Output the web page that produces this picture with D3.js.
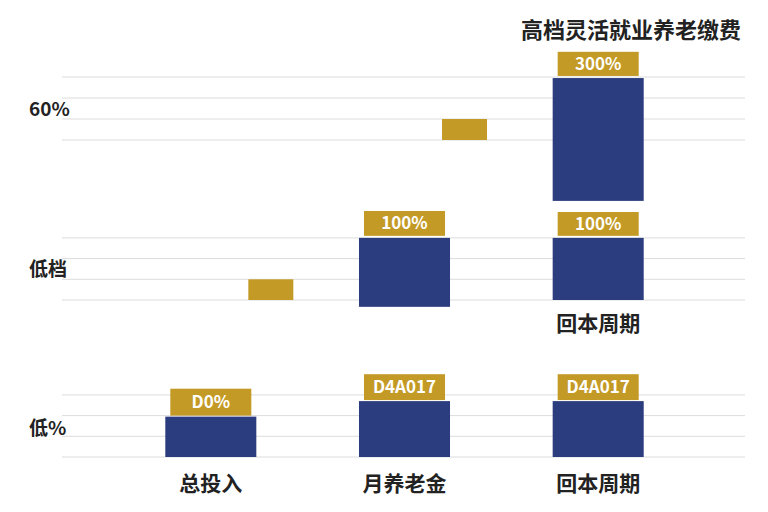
<!DOCTYPE html>
<html><head><meta charset="utf-8">
<script src="https://cdn.jsdelivr.net/npm/d3@7"></script>
<style>body{margin:0;background:#fff}</style>
</head><body><div id="chart"></div>
<script>
const categories = ["总投入", "月养老金", "回本周期"]
// panels: row label, baseline px, bars [category, from, to], tags [category, from, to, text], small gold marks
const panelLabels = ["60%", "低档", "低%"]
const panelBase = [140, 300, 457]
const panelStep = [21, 20.7, 20.7]
const panelLabelPos = [1.5, 1.5, 1.4]
const blueBars = [
  [["回本周期", -2.9, 2.95]],
  [["月养老金", -0.33, 3], ["回本周期", 0, 3]],
  [["总投入", 0, 1.95], ["月养老金", 0, 2.7], ["回本周期", 0, 2.7]]
]
const tags = [
  [["回本周期", 3.05, 4.2, "300%"]],
  [["月养老金", 3.1, 4.3, "100%"], ["回本周期", 3.1, 4.25, "100%"]],
  [["总投入", 2.0, 3.3, "D0%"], ["月养老金", 2.75, 4.0, "D4A017"], ["回本周期", 2.75, 4.0, "D4A017"]]
]
const goldMarks = [
  [["月养老金", 0, 1]],
  [["总投入", 0, 1]],
  []
]
const subLabels = [[], [["回本周期", "回本周期"]], []]

const width = 768, height = 512
const blue = "#2b3d7e", gold = "#c49a26"
const svg = d3.select("#chart").append("svg").attr("width", width).attr("height", height)
const font = "'Noto Sans CJK SC', 'Noto Sans', sans-serif"

const x = d3.scaleBand().domain(categories).range([113, 696]).paddingInner(0.53).paddingOuter(0.27)
const bw = x.bandwidth()

svg.append("text").attr("x", 741).attr("y", 38).attr("text-anchor", "end")
  .attr("font-family", font).attr("font-weight", "bold").attr("font-size", 22).attr("fill", "#222")
  .text("高档灵活就业养老缴费")

panelBase.forEach((base, p) => {
  const y = d3.scaleLinear().domain([0, 3]).range([base, base - 3 * panelStep[p]])
  const g = svg.append("g")
  g.selectAll("line.grid").data(d3.range(4)).join("line")
    .attr("x1", 62).attr("x2", 745).attr("y1", d => y(d)).attr("y2", d => y(d))
    .attr("stroke", "#dcdcdc").attr("stroke-width", 1)
  g.append("text").attr("x", 29).attr("y", y(panelLabelPos[p]) + 7)
    .attr("font-family", font).attr("font-weight", "bold").attr("font-size", 19).attr("fill", "#222")
    .text(panelLabels[p])
  g.selectAll("rect.bar").data(blueBars[p]).join("rect")
    .attr("x", d => x(d[0])).attr("width", bw)
    .attr("y", d => y(d[2])).attr("height", d => y(d[1]) - y(d[2])).attr("fill", blue)
  g.selectAll("rect.gm").data(goldMarks[p]).join("rect")
    .attr("x", d => x(d[0]) + bw - 8).attr("width", 45)
    .attr("y", d => y(d[2])).attr("height", d => y(d[1]) - y(d[2])).attr("fill", gold)
  g.selectAll("rect.tag").data(tags[p]).join("rect")
    .attr("x", d => x(d[0]) + 5).attr("width", bw - 10)
    .attr("y", d => y(d[2])).attr("height", d => y(d[1]) - y(d[2])).attr("fill", gold)
  g.selectAll("text.tag").data(tags[p]).join("text")
    .attr("x", d => x(d[0]) + bw / 2).attr("y", d => (y(d[1]) + y(d[2])) / 2 + 6)
    .attr("text-anchor", "middle").attr("font-family", font).attr("font-weight", "bold")
    .attr("font-size", 17).attr("fill", "#fff").text(d => d[3])
  g.selectAll("text.sub").data(subLabels[p]).join("text")
    .attr("x", d => x(d[0]) + bw / 2).attr("y", base + 31).attr("text-anchor", "middle")
    .attr("font-family", font).attr("font-weight", "bold").attr("font-size", 21).attr("fill", "#222")
    .text(d => d[1])
})

svg.selectAll("text.cat").data(categories).join("text")
  .attr("x", d => x(d) + bw / 2).attr("y", 491).attr("text-anchor", "middle")
  .attr("font-family", font).attr("font-weight", "bold").attr("font-size", 21).attr("fill", "#222")
  .text(d => d)
</script></body></html>
